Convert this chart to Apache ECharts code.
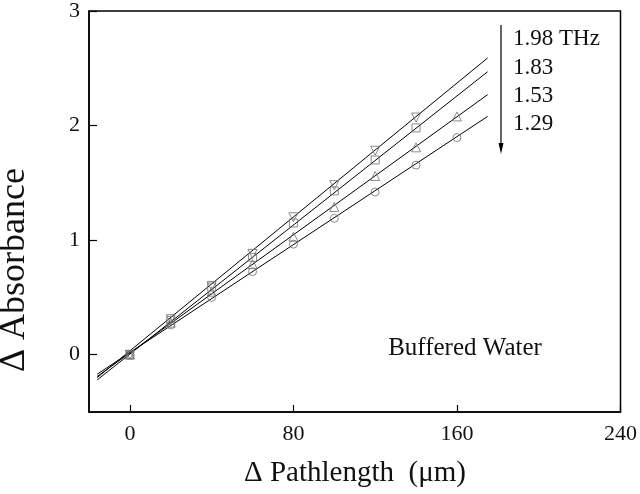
<!DOCTYPE html>
<html>
<head>
<meta charset="utf-8">
<script src="https://cdn.jsdelivr.net/npm/echarts@6/dist/echarts.min.js"></script>
<style>
  html, body { margin: 0; padding: 0; background: #fff; }
  #chart { width: 640px; height: 494px; }
</style>
</head>
<body>
<div id="chart"></div>
<script>
// path length steps (um)
const pathX = [0, 20, 40, 60, 80, 100, 120, 140, 160]

// measured delta absorbance per frequency
const abs198 = [0, 0.31, 0.60, 0.88, 1.20, 1.48, 1.78, 2.07]
const abs183 = [0, 0.30, 0.59, 0.85, 1.15, 1.43, 1.70, 1.98]
const abs153 = [0, 0.28, 0.55, 0.79, 1.03, 1.29, 1.56, 1.81, 2.08]
const abs129 = [0, 0.26, 0.50, 0.725, 0.965, 1.19, 1.42, 1.655, 1.895]

// linear fit end points
const fitX = [-16, 175]
const fit198 = [-0.20, 2.59]
const fit183 = [-0.22, 2.47]
const fit153 = [-0.19, 2.27]
const fit129 = [-0.17, 2.08]

const freqLabels = ['1.98 THz', '1.83', '1.53', '1.29']
const xTicks = [0, 80, 160, 240]
const yTicks = [0, 1, 2, 3]

const FONT = '"Liberation Serif", "DejaVu Serif", serif'
const markColor = '#6e6e6e'

const pairs = (xs, ys) => ys.map((y, i) => [xs[i], y])

const chart = echarts.init(document.getElementById('chart'))

function markSeries(name, ys, symbol, size, rotate) {
  return {
    name,
    type: 'scatter',
    data: pairs(pathX, ys),
    symbol,
    symbolSize: size,
    symbolRotate: rotate || 0,
    itemStyle: { color: 'rgba(0,0,0,0)', borderColor: markColor, borderWidth: 1 },
    z: 3
  }
}

function fitSeries(ys) {
  return {
    type: 'line',
    data: pairs(fitX, ys),
    showSymbol: false,
    lineStyle: { color: '#000', width: 1 },
    z: 2
  }
}

const labelY = [39, 67.5, 96, 124]

chart.setOption({
  animation: false,
  grid: {
    left: 89, right: 17, top: 9, bottom: 82,
    show: true, borderColor: '#000', borderWidth: 1.5
  },
  xAxis: {
    type: 'value',
    min: -20, max: 240,
    axisLine: { show: true, onZero: false, lineStyle: { color: '#000', width: 1.5 } },
    axisTick: { show: true, inside: true, length: 7, customValues: xTicks, lineStyle: { color: '#000', width: 1.2 } },
    axisLabel: { customValues: xTicks, fontFamily: FONT, fontSize: 22, color: '#111', margin: 11 },
    splitLine: { show: false }
  },
  yAxis: {
    type: 'value',
    min: -0.5, max: 3,
    axisLine: { show: true, onZero: false, lineStyle: { color: '#000', width: 1.5 } },
    axisTick: { show: true, inside: true, length: 8, customValues: yTicks, lineStyle: { color: '#000', width: 1.2 } },
    axisLabel: { customValues: yTicks, fontFamily: FONT, fontSize: 22, color: '#111', margin: 9 },
    splitLine: { show: false }
  },
  series: [
    fitSeries(fit198),
    fitSeries(fit183),
    fitSeries(fit153),
    fitSeries(fit129),
    markSeries('1.98 THz', abs198, 'triangle', 9, 180),
    markSeries('1.83', abs183, 'rect', 8),
    markSeries('1.53', abs153, 'triangle', 9),
    markSeries('1.29', abs129, 'circle', 8)
  ],
  graphic: [
    // frequency arrow
    { type: 'line', shape: { x1: 501, y1: 25, x2: 501, y2: 146 }, style: { stroke: '#000', lineWidth: 1.2 } },
    { type: 'polygon', shape: { points: [[501, 154], [498.5, 143], [503.5, 143]] }, style: { fill: '#000' } },
    ...freqLabels.map((t, i) => ({
      type: 'text', x: 513, y: labelY[i],
      style: { text: t, font: '23px ' + FONT, fill: '#111', textVerticalAlign: 'middle' }
    })),
    {
      type: 'text', x: 465, y: 348,
      style: { text: 'Buffered Water', font: '25px ' + FONT, fill: '#111', textAlign: 'center', textVerticalAlign: 'middle' }
    },
    {
      type: 'text', x: 355, y: 473,
      style: { text: 'Δ Pathlength  (μm)', font: '29px ' + FONT, fill: '#111', textAlign: 'center', textVerticalAlign: 'middle' }
    },
    {
      type: 'text', x: 15, y: 270, rotation: Math.PI / 2,
      style: { text: 'Δ Absorbance', font: '36px ' + FONT, fill: '#111', textAlign: 'center', textVerticalAlign: 'middle' }
    }
  ]
})
</script>
</body>
</html>
